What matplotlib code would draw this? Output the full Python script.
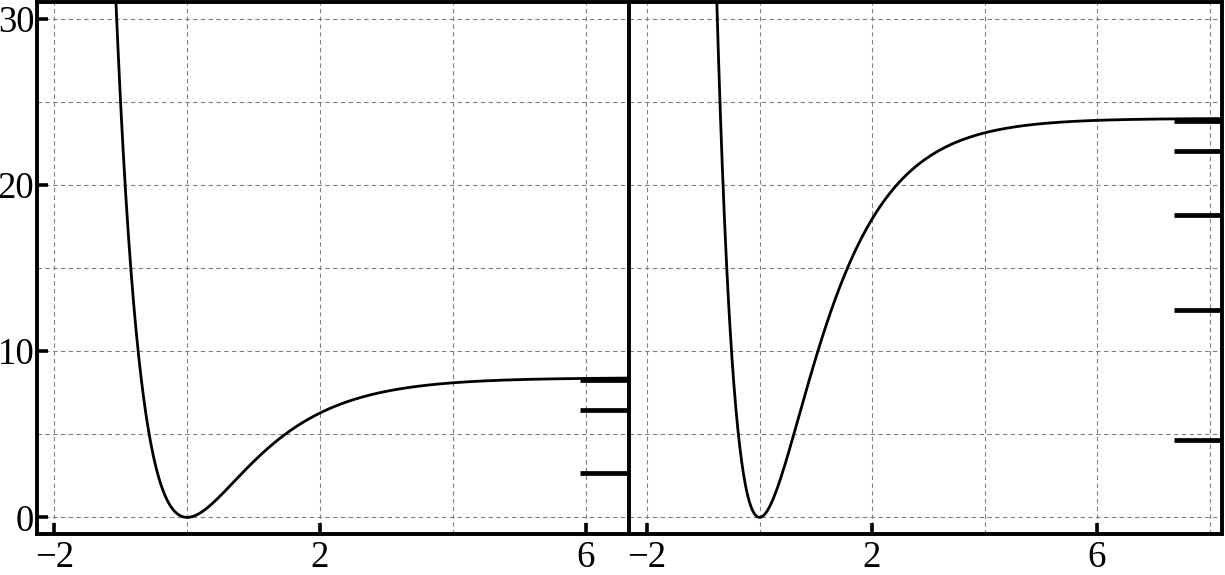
import numpy as np
import matplotlib
matplotlib.use("Agg")
import matplotlib.pyplot as plt

# ----------------------------------------
# Morse potentials with their bound levels
# ----------------------------------------

# well depth and width of each potential
depth_left = 8.4
depth_right = 24.0
width_a = 1.0

# vibrational levels drawn as bars at the right edge
levels_left = [2.64, 6.44, 8.24]
levels_right = [4.64, 12.45, 18.19, 22.03, 23.85]

xticks = [-2, 2, 6]
yticks = [0, 10, 20, 30]

plt.rcParams['font.family'] = ['Liberation Serif', 'DejaVu Serif']
plt.rcParams['axes.unicode_minus'] = True


def morse(x, depth, a):
    return depth * (1 - np.exp(-a * x)) ** 2


def style_axes(ax, xlim, show_y=True):
    ax.set_xlim(*xlim)
    ax.set_ylim(-1, 31)
    ax.set_xticks(xticks)
    ax.set_xticks(np.arange(-2, xlim[1], 2), minor=True)
    ax.set_yticks(yticks)
    ax.set_yticks(np.arange(0, 31, 5), minor=True)
    ax.grid(True, which='both', color='#808080', linestyle=(0, (4, 3)), linewidth=0.8)
    ax.tick_params(which='major', direction='in', length=8, width=2.6,
                   labelsize=26.5)
    ax.tick_params(axis='x', pad=5)
    ax.tick_params(axis='y', pad=2)
    ax.tick_params(which='minor', length=0)
    if not show_y:
        ax.tick_params(axis='y', left=False, labelleft=False)
    for sp in ax.spines.values():
        sp.set_linewidth(2.8)
    ax.set_axisbelow(True)


fig = plt.figure(figsize=(12.25, 5.75), dpi=100)
ax1 = fig.add_axes([37 / 1225, 41 / 575, 592 / 1225, 532 / 575])
ax2 = fig.add_axes([629 / 1225, 41 / 575, 593 / 1225, 532 / 575])

# left panel
xlim1 = (-2.26, 6.65)
x1 = np.linspace(-1.2, xlim1[1], 800)
ax1.plot(x1, morse(x1, depth_left, width_a), color='black', lw=2.0)
ax1.hlines(levels_left, 5.92, xlim1[1], color='black', lw=3.4)
style_axes(ax1, xlim1)

# right panel
xlim2 = (-2.32, 8.22)
x2 = np.linspace(-0.9, xlim2[1], 800)
ax2.plot(x2, morse(x2, depth_right, width_a), color='black', lw=2.0)
ax2.hlines(levels_right, 7.37, xlim2[1], color='black', lw=3.4)
style_axes(ax2, xlim2, show_y=False)

fig.savefig("out.png", dpi=100)
